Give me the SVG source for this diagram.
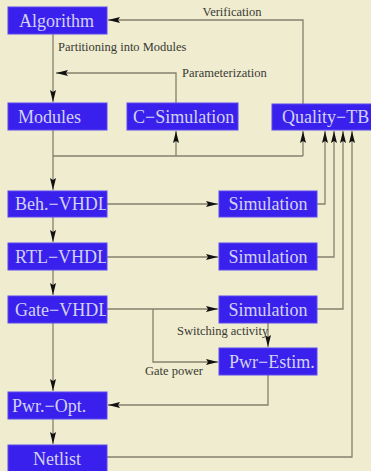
<svg xmlns="http://www.w3.org/2000/svg" width="371" height="471" viewBox="0 0 371 471">
  <defs>
    <style>
      .box { fill: #3a20ec; stroke: #5a48f0; stroke-width: 1; }
      .lbl { font-size: 18px; fill: #d2d2f4; }
      .note { font-size: 12.5px; fill: #3a3a32; }
      .wire { fill: none; stroke: #85806c; stroke-width: 1.3; }
    </style>
    <marker id="arrow" markerUnits="userSpaceOnUse" markerWidth="13" markerHeight="7" refX="12" refY="3" orient="auto">
      <path d="M0,0 L12,3 L0,6 L2,3 z" fill="#111"/>
    </marker>
    <clipPath id="clip-left"><rect x="8" y="0" width="98" height="471"/></clipPath>
  </defs>

  <rect width="371" height="471" fill="#efecd0"/>

  <!-- connectors -->
  <g id="connectors">
    <path class="wire" d="M303,104 V20 H108" marker-end="url(#arrow)"/>
    <path class="wire" d="M53,34 V102" marker-end="url(#arrow)"/>
    <path class="wire" d="M176,103 V73 H56" marker-end="url(#arrow)"/>
    <path class="wire" d="M53,130 V190" marker-end="url(#arrow)"/>
    <path class="wire" d="M53,156 H303"/>
    <path class="wire" d="M176,156 V131" marker-end="url(#arrow)"/>
    <path class="wire" d="M303,156 V131" marker-end="url(#arrow)"/>
    <path class="wire" d="M53,217 V242" marker-end="url(#arrow)"/>
    <path class="wire" d="M53,270 V295" marker-end="url(#arrow)"/>
    <path class="wire" d="M53,323 V391" marker-end="url(#arrow)"/>
    <path class="wire" d="M53,419 V444" marker-end="url(#arrow)"/>
    <path class="wire" d="M107,204 H218" marker-end="url(#arrow)"/>
    <path class="wire" d="M107,257 H218" marker-end="url(#arrow)"/>
    <path class="wire" d="M107,309 H218" marker-end="url(#arrow)"/>
    <path class="wire" d="M317,204 H325 V131" marker-end="url(#arrow)"/>
    <path class="wire" d="M317,257 H334 V131" marker-end="url(#arrow)"/>
    <path class="wire" d="M317,309 H343 V131" marker-end="url(#arrow)"/>
    <path class="wire" d="M107,457 H352 V131" marker-end="url(#arrow)"/>
    <path class="wire" d="M153,309 V362 H218" marker-end="url(#arrow)"/>
    <path class="wire" d="M268,323 V347" marker-end="url(#arrow)"/>
    <path class="wire" d="M268,375 V405 H108" marker-end="url(#arrow)"/>
  </g>

  <g id="connector-labels" font-family="Liberation Serif, DejaVu Serif, serif">
    <text class="note" x="232" y="16" text-anchor="middle">Verification</text>
    <text class="note" x="58" y="51">Partitioning into Modules</text>
    <text class="note" x="182" y="77">Parameterization</text>
    <text class="note" x="177" y="335">Switching activity</text>
    <text class="note" x="145" y="375">Gate power</text>
  </g>

  <!-- nodes -->
  <g id="nodes" font-family="Liberation Serif, DejaVu Serif, serif">
    <g id="algorithm">
      <rect class="box" x="8" y="7" width="99" height="27"/>
      <text class="lbl" x="19" y="27">Algorithm</text>
    </g>
    <g id="modules">
      <rect class="box" x="8" y="103" width="99" height="27"/>
      <text class="lbl" x="18" y="123">Modules</text>
    </g>
    <g id="c-simulation">
      <rect class="box" x="127" y="103" width="111" height="27"/>
      <text class="lbl" x="133" y="123">C−Simulation</text>
    </g>
    <g id="quality-tb">
      <rect class="box" x="272" y="104" width="101" height="26"/>
      <text class="lbl" x="282" y="123">Quality−TB</text>
    </g>
    <g id="beh-vhdl">
      <rect class="box" x="8" y="191" width="99" height="26"/>
      <text class="lbl" x="15" y="210" clip-path="url(#clip-left)">Beh.−VHDL</text>
    </g>
    <g id="rtl-vhdl">
      <rect class="box" x="8" y="243" width="99" height="27"/>
      <text class="lbl" x="15" y="263" clip-path="url(#clip-left)">RTL−VHDL</text>
    </g>
    <g id="gate-vhdl">
      <rect class="box" x="8" y="296" width="99" height="27"/>
      <text class="lbl" x="15" y="316" clip-path="url(#clip-left)">Gate−VHDL</text>
    </g>
    <g id="simulation-beh">
      <rect class="box" x="219" y="191" width="98" height="26"/>
      <text class="lbl" x="268" y="210" text-anchor="middle">Simulation</text>
    </g>
    <g id="simulation-rtl">
      <rect class="box" x="219" y="243" width="98" height="27"/>
      <text class="lbl" x="268" y="263" text-anchor="middle">Simulation</text>
    </g>
    <g id="simulation-gate">
      <rect class="box" x="219" y="296" width="98" height="27"/>
      <text class="lbl" x="268" y="316" text-anchor="middle">Simulation</text>
    </g>
    <g id="pwr-estim">
      <rect class="box" x="219" y="348" width="98" height="27"/>
      <text class="lbl" x="229" y="368">Pwr−Estim.</text>
    </g>
    <g id="pwr-opt">
      <rect class="box" x="8" y="392" width="99" height="27"/>
      <text class="lbl" x="12" y="412">Pwr.−Opt.</text>
    </g>
    <g id="netlist">
      <rect class="box" x="8" y="445" width="99" height="27"/>
      <text class="lbl" x="57" y="465" text-anchor="middle">Netlist</text>
    </g>
  </g>
</svg>
